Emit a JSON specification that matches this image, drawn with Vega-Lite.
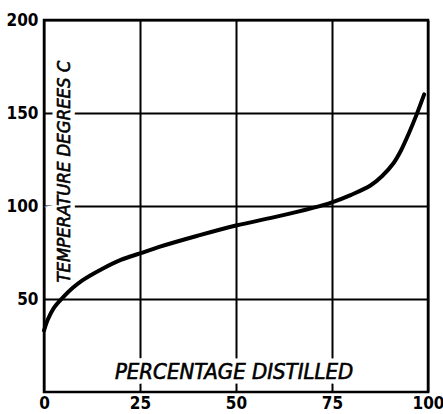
{
  "$schema": "https://vega.github.io/schema/vega-lite/v6.json",
  "width": 384,
  "height": 372,
  "autosize": {"type": "none"},
  "padding": {"left": 44, "top": 20, "right": 15, "bottom": 22},
  "background": "white",
  "config": {
    "view": {"stroke": "black", "strokeWidth": 2.5},
    "axis": {
      "grid": true,
      "gridColor": "black",
      "gridWidth": 2,
      "gridOpacity": 1,
      "domain": false,
      "ticks": false,
      "labelFont": "DejaVu Sans Condensed, DejaVu Sans",
      "labelFontSize": 17,
      "labelFontWeight": "bold",
      "labelColor": "black",
      "title": null
    }
  },
  "datasets": {
    "curve": [
      {"pct": 0, "temp": 33},
      {"pct": 1, "temp": 39},
      {"pct": 2.5, "temp": 45},
      {"pct": 5, "temp": 51},
      {"pct": 7.5, "temp": 56},
      {"pct": 10, "temp": 60},
      {"pct": 15, "temp": 66},
      {"pct": 20, "temp": 71},
      {"pct": 25, "temp": 74.5},
      {"pct": 30, "temp": 78},
      {"pct": 40, "temp": 84},
      {"pct": 50, "temp": 89.5},
      {"pct": 60, "temp": 94},
      {"pct": 70, "temp": 99},
      {"pct": 75, "temp": 102},
      {"pct": 80, "temp": 106},
      {"pct": 85, "temp": 111},
      {"pct": 88, "temp": 116},
      {"pct": 91, "temp": 123},
      {"pct": 93, "temp": 130},
      {"pct": 95, "temp": 139},
      {"pct": 97, "temp": 149},
      {"pct": 99, "temp": 160}
    ],
    "titles": [
      {"pct": 49.5, "temp": 10.5, "label": "PERCENTAGE DISTILLED", "kind": "h"},
      {"pct": 5.3, "temp": 118.5, "label": "TEMPERATURE DEGREES C", "kind": "v"}
    ]
  },
  "encoding": {
    "x": {
      "field": "pct", "type": "quantitative",
      "scale": {"domain": [0, 100], "nice": false},
      "axis": {"values": [0, 25, 50, 75, 100], "labelPadding": 3, "labelFlush": false}
    },
    "y": {
      "field": "temp", "type": "quantitative",
      "scale": {"domain": [0, 200], "nice": false},
      "axis": {"values": [50, 100, 150, 200], "labelPadding": 6}
    }
  },
  "layer": [
    {
      "data": {"name": "titles"},
      "transform": [{"filter": "datum.kind == 'h'"}],
      "mark": {"type": "text", "font": "DejaVu Sans Condensed", "fontSize": 22, "fontStyle": "italic", "stroke": "white", "strokeWidth": 9, "fill": "white", "baseline": "middle", "align": "center"},
      "encoding": {"text": {"field": "label"}}
    },
    {
      "data": {"name": "titles"},
      "transform": [{"filter": "datum.kind == 'v'"}],
      "mark": {"type": "text", "angle": 270, "font": "DejaVu Sans Condensed", "fontSize": 18.4, "fontStyle": "italic", "stroke": "white", "strokeWidth": 9, "fill": "white", "baseline": "middle", "align": "center"},
      "encoding": {"text": {"field": "label"}}
    },
    {
      "data": {"name": "titles"},
      "transform": [{"filter": "datum.kind == 'h'"}],
      "mark": {"type": "text", "font": "DejaVu Sans Condensed", "fontSize": 22, "fontStyle": "italic", "fill": "black", "stroke": "black", "strokeWidth": 0.6, "baseline": "middle", "align": "center"},
      "encoding": {"text": {"field": "label"}}
    },
    {
      "data": {"name": "titles"},
      "transform": [{"filter": "datum.kind == 'v'"}],
      "mark": {"type": "text", "angle": 270, "font": "DejaVu Sans Condensed", "fontSize": 18.4, "fontStyle": "italic", "fill": "black", "stroke": "black", "strokeWidth": 0.6, "baseline": "middle", "align": "center"},
      "encoding": {"text": {"field": "label"}}
    },
    {
      "data": {"name": "curve"},
      "mark": {"type": "line", "color": "black", "strokeWidth": 4, "strokeCap": "round", "interpolate": "catmull-rom"}
    }
  ]
}
